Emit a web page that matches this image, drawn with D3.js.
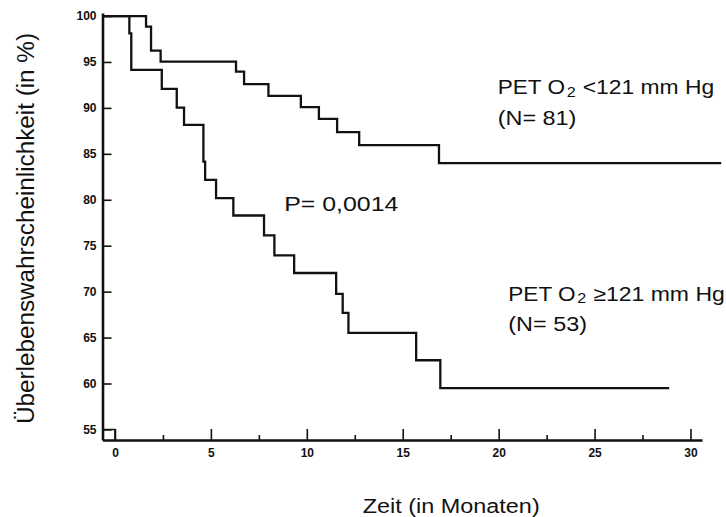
<!DOCTYPE html>
<html>
<head>
<meta charset="utf-8">
<script src="https://cdn.jsdelivr.net/npm/d3@7"></script>
<style>
  html, body { margin: 0; padding: 0; background: #fff; }
  svg { display: block; }
  text { font-family: "Liberation Sans", Arial, sans-serif; fill: #111; }
</style>
</head>
<body>
<svg id="chart" width="726" height="517"></svg>
<script>
// ---- data ----
const xMajorTicks = [0, 5, 10, 15, 20, 25, 30];
const xMinorTicks = [2.5, 7.5, 12.5, 17.5, 22.5, 27.5];
const yTicks = [55, 60, 65, 70, 75, 80, 85, 90, 95, 100];

// PET O2 < 121 mm Hg (N = 81)
const lowGroupTimes  = [0, 1.62, 1.88, 2.38, 6.31, 6.73, 8.0, 9.69, 10.63, 11.58, 12.73, 16.89];
const lowGroupValues = [100, 98.84, 96.23, 95.03, 93.95, 92.58, 91.30, 90.08, 88.80, 87.36, 85.95, 83.99];
const lowGroupEnd = 31.6;

// PET O2 >= 121 mm Hg (N = 53)
const highGroupTimes  = [0, 0.75, 0.85, 2.44, 3.22, 3.6, 4.61, 4.7, 5.27, 6.17, 7.77, 8.31, 9.34, 11.53, 11.87, 12.17, 15.70, 16.96];
const highGroupValues = [100, 98.12, 94.13, 92.07, 90.03, 88.15, 84.16, 82.17, 80.18, 78.29, 76.12, 73.95, 72.03, 69.75, 67.68, 65.51, 62.53, 59.49];
const highGroupEnd = 28.89;

const pValueText = "P= 0,0014";
const xTitle = "Zeit (in Monaten)";
const yTitle = "Überlebenswahrscheinlichkeit (in %)";

// ---- scales ----
const svg = d3.select("#chart");
svg.append("rect").attr("width", 726).attr("height", 517).attr("fill", "#fff");

const x = d3.scaleLinear().domain([-0.65, 30.6]).range([102.5, 702]);
const y = d3.scaleLinear().domain([53.85, 100.33]).range([440, 13]);

const ink = "#111";

// ---- axes ----
const xAxisMajor = d3.axisBottom(x).tickValues(xMajorTicks).tickSizeInner(-11).tickSizeOuter(0).tickPadding(8.5);
const gx = svg.append("g").attr("transform", `translate(0,${y.range()[0]})`).call(xAxisMajor);
gx.select(".domain").attr("stroke", ink).attr("stroke-width", 2.6);
gx.selectAll(".tick line").attr("stroke", ink).attr("stroke-width", 1.6);
gx.selectAll(".tick text").attr("font-size", 12).attr("font-weight", "bold")
  .attr("font-family", "'Liberation Sans', Arial, sans-serif").attr("fill", ink);

const xAxisMinor = d3.axisBottom(x).tickValues(xMinorTicks).tickSizeInner(-5).tickSizeOuter(0).tickFormat("");
const gxm = svg.append("g").attr("transform", `translate(0,${y.range()[0]})`).call(xAxisMinor);
gxm.select(".domain").remove();
gxm.selectAll(".tick line").attr("stroke", ink).attr("stroke-width", 1.6);

const yAxis = d3.axisLeft(y).tickValues(yTicks).tickSizeInner(-9).tickSizeOuter(0).tickPadding(6);
const gy = svg.append("g").attr("transform", `translate(${x.range()[0]},0)`).call(yAxis);
gy.select(".domain").attr("stroke", ink).attr("stroke-width", 2.6);
gy.selectAll(".tick line").attr("stroke", ink).attr("stroke-width", 1.6);
gy.selectAll(".tick text").attr("font-size", 12).attr("font-weight", "bold")
  .attr("font-family", "'Liberation Sans', Arial, sans-serif").attr("fill", ink);

// small corner mark near the origin
svg.append("path")
  .attr("d", d3.line()([[x(x.domain()[0]), y(55)], [x(0), y(55)], [x(0), y(y.domain()[0])]]))
  .attr("fill", "none").attr("stroke", ink).attr("stroke-width", 1.6);

// ---- survival curves ----
const step = d3.line().x(d => x(d[0])).y(d => y(d[1])).curve(d3.curveStepAfter);
function curvePoints(times, values, end) {
  const pts = times.map((t, i) => [t, values[i]]);
  pts.push([end, values[values.length - 1]]);
  return pts;
}
const xStart = x.domain()[0];
const lowPts = curvePoints(lowGroupTimes, lowGroupValues, lowGroupEnd); lowPts[0][0] = xStart;
const highPts = curvePoints(highGroupTimes, highGroupValues, highGroupEnd); highPts[0][0] = xStart;

svg.append("path").attr("d", step(lowPts))
  .attr("fill", "none").attr("stroke", ink).attr("stroke-width", 2.3).attr("stroke-linejoin", "miter");
svg.append("path").attr("d", step(highPts))
  .attr("fill", "none").attr("stroke", ink).attr("stroke-width", 2.3).attr("stroke-linejoin", "miter");

// ---- annotations ----
function label(txt, px, py, size, len, anchor) {
  const t = svg.append("text").attr("x", px).attr("y", py).attr("font-size", size)
    .attr("text-anchor", anchor || "start").text(txt);
  if (len) t.attr("textLength", len).attr("lengthAdjust", "spacingAndGlyphs");
  return t;
}
function groupLabel(px, py, rel, nText) {
  label("PET O", px, py, 20, 67.3);
  label("2", px + 69, py + 2.7, 14, 9);
  label(rel + "121 mm Hg", px + 85, py, 20, 131.5);
  label(nText, px, py + 30.5, 20, 78.7);
}
groupLabel(497.7, 94, "<", "(N= 81)");
groupLabel(508.3, 300.7, "≥", "(N= 53)");

label(pValueText, 284.3, 210.7, 21, 114);

// axis titles
label(xTitle, 362.7, 512.7, 20, 177);
svg.append("text")
  .attr("transform", "translate(34,424) rotate(-90)")
  .attr("font-size", 23)
  .attr("textLength", 391).attr("lengthAdjust", "spacingAndGlyphs")
  .text(yTitle);
</script>
</body>
</html>
